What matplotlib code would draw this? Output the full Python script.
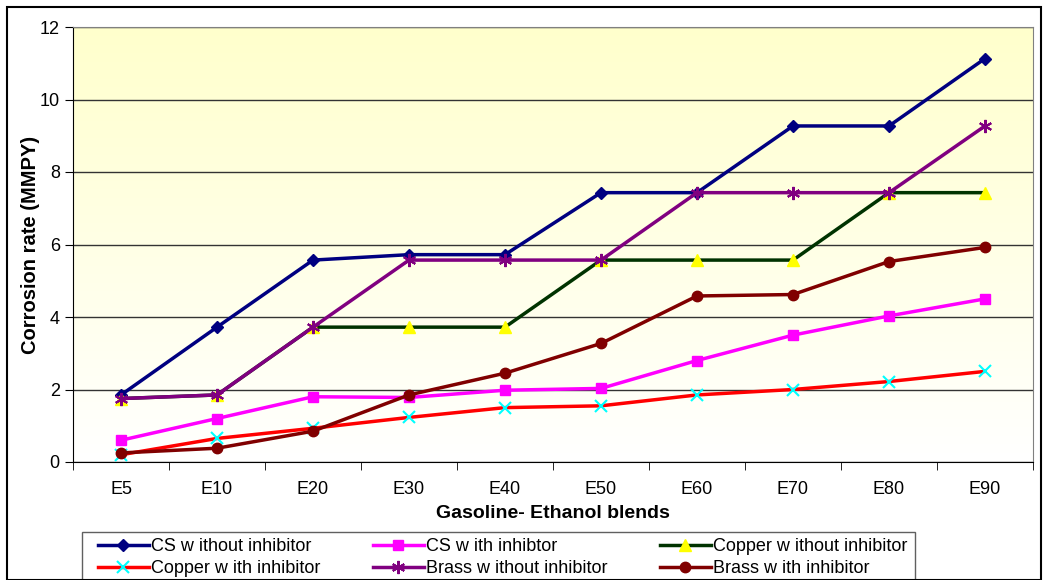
import numpy as np
import matplotlib
matplotlib.use("Agg")
from matplotlib import pyplot as plt
from matplotlib.patches import Rectangle

plt.rcParams['font.family'] = ['Liberation Sans', 'DejaVu Sans']

blends = ['E5', 'E10', 'E20', 'E30', 'E40', 'E50', 'E60', 'E70', 'E80', 'E90']
cs_without = [1.85, 3.72, 5.57, 5.72, 5.72, 7.43, 7.43, 9.27, 9.27, 11.13]
cs_with = [0.60, 1.20, 1.80, 1.78, 1.98, 2.03, 2.80, 3.50, 4.03, 4.50]
copper_without = [1.75, 1.85, 3.72, 3.72, 3.72, 5.57, 5.57, 5.57, 7.43, 7.43]
copper_with = [0.20, 0.65, 0.93, 1.23, 1.50, 1.55, 1.85, 2.00, 2.22, 2.50]
brass_without = [1.75, 1.85, 3.72, 5.57, 5.57, 5.57, 7.43, 7.43, 7.43, 9.27]
brass_with = [0.25, 0.38, 0.85, 1.85, 2.45, 3.27, 4.58, 4.62, 5.53, 5.92]

fig = plt.figure(figsize=(10.49, 5.8), dpi=100)
ax = fig.add_axes([73 / 1049, 1 - 462 / 580, 960 / 1049, 435 / 580])

# yellow-to-white gradient background
grad = np.linspace(0, 1, 256).reshape(-1, 1)
cmap = matplotlib.colors.LinearSegmentedColormap.from_list('bg', ['#ffffff', '#ffffcc'])
ax.imshow(grad, aspect='auto', cmap=cmap, origin='lower',
          extent=[-0.5, 9.5, 0, 12], zorder=0)

x = np.arange(len(blends))
lw = 2.5
lines = []
lines += ax.plot(x, cs_without, '-D', color='#000080', mfc='#000080', mec='#000080', ms=6.5, lw=lw,
                 label='CS w ithout inhibitor', zorder=3)
lines += ax.plot(x, cs_with, '-s', color='#ff00ff', ms=7.5, lw=lw,
                 label='CS w ith inhibtor', zorder=3)
lines += ax.plot(x, copper_without, '-^', color='#003300', mfc='#ffff00', mec='#ffff00', ms=8.5, lw=lw,
                 label='Copper w ithout inhibitor', zorder=3)
lines += ax.plot(x, copper_with, '-x', color='#ff0000', mec='#00ffff', ms=8.5, mew=1.5, lw=lw,
                 label='Copper w ith inhibitor', zorder=3)
lines += ax.plot(x, brass_without, '-', color='#800080', lw=lw, zorder=4,
                 marker=(6, 2, 0), ms=9.5, mew=1.5, mec='#800080',
                 label='Brass w ithout inhibitor')
lines += ax.plot(x, brass_with, '-o', color='#800000', ms=7.5, lw=lw,
                 label='Brass w ith inhibitor', zorder=5)

ax.set_xlim(-0.5, 9.5)
ax.set_ylim(0, 12)
ax.set_yticks(range(0, 13, 2))
ax.yaxis.grid(True, color='#333333', lw=1)
for gl in ax.get_ygridlines():
    gl.set_zorder(1)
ax.set_xticks(x)
ax.set_xticklabels(blends)
ax.set_xticks(np.arange(-0.5, 10, 1), minor=True)
ax.tick_params(axis='x', which='major', length=0, pad=14, labelsize=13)
ax.tick_params(axis='x', which='minor', length=6, direction='out')
ax.tick_params(axis='y', length=6, direction='out', labelsize=13)
for s in ['top', 'right']:
    ax.spines[s].set_color('#808080')
ax.set_xlabel('Gasoline- Ethanol blends', fontsize=14, fontweight='bold', labelpad=5)
ax.set_ylabel('Corrosion rate (MMPY)', fontsize=14.5, fontweight='bold', labelpad=0)

# legend filled row by row like the original
order = [0, 3, 1, 4, 2, 5]
leg = fig.legend([lines[i] for i in order], [lines[i].get_label() for i in order],
                 loc='upper left', bbox_to_anchor=(98 / 1049, 1 - 538 / 580),
                 ncol=3, frameon=False, fontsize=13, handlelength=2.8,
                 columnspacing=2.9, borderpad=0, borderaxespad=0,
                 labelspacing=0.3, handletextpad=0.15)

fig.patches.append(Rectangle((82 / 1049, -0.05), 833 / 1049, (580 - 532) / 580 + 0.05,
                             transform=fig.transFigure, fill=False, edgecolor='#606060', lw=1))
fig.patches.append(Rectangle((7 / 1049, 0), 1034 / 1049, 1 - 7 / 580, transform=fig.transFigure,
                             fill=False, edgecolor='black', lw=1.5))

plt.savefig('out.png', dpi=100)
